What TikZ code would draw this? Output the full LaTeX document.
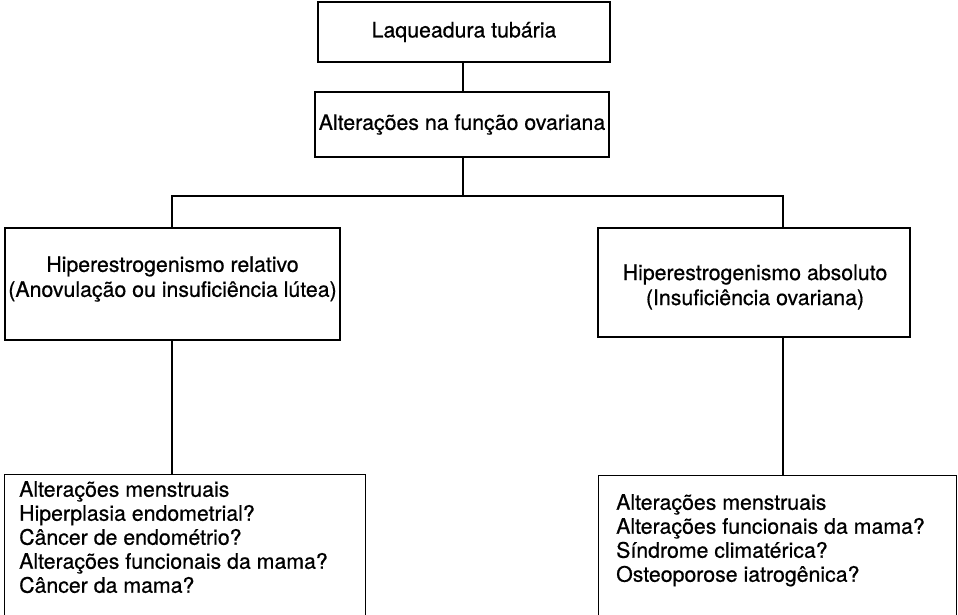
\documentclass[tikz,border=0pt]{standalone}
\usepackage{fontspec}
\setmainfont[FakeBold=0.6]{TeX Gyre Heros}
\begin{document}
\begin{tikzpicture}[x=1pt,y=1pt,
  box/.style={draw,line width=1.4pt,rectangle,inner sep=0pt},
  lbl/.style={inner sep=0pt,align=center,font=\fontsize{21.3}{25}\selectfont},
  lst/.style={inner sep=0pt,align=left,anchor=north west,font=\fontsize{21.3}{24}\selectfont},
  conn/.style={line width=1.4pt}]
\useasboundingbox (0,0) rectangle (958,-614);
\clip (0,0) rectangle (958,-614);
% boxes
\node[box,minimum width=292pt,minimum height=60pt] (top) at (464,-32) {};
\node[box,minimum width=294pt,minimum height=65pt] (mid) at (462,-124.5) {};
\node[box,minimum width=335pt,minimum height=112pt] (rel) at (172.5,-284) {};
\node[box,minimum width=312pt,minimum height=109pt] (abs) at (754,-282.5) {};
\node[box,minimum width=361pt,minimum height=200pt,anchor=north west] (lowl) at (4,-474) {};
\node[box,minimum width=358pt,minimum height=200pt,anchor=north west] (lowr) at (598,-475) {};
% texts
\node[lbl] (ttop) at (top) {Laqueadura tubária};
\node[lbl] (tmid) at (mid) {Alterações na função ovariana};
\node[lbl] (trel) at (172.5,-279) {Hiperestrogenismo relativo\\(Anovulação ou insuficiência lútea)};
\node[lbl] (tabs) at (755,-287) {Hiperestrogenismo absoluto\\(Insuficiência ovariana)};
\node[lst] (tlowl) at (19,-481) {Alterações menstruais\\Hiperplasia endometrial?\\Câncer de endométrio?\\Alterações funcionais da mama?\\Câncer da mama?};
\node[lst] (tlowr) at (616,-494) {Alterações menstruais\\Alterações funcionais da mama?\\Síndrome climatérica?\\Osteoporose iatrogênica?};
% connectors
\coordinate (split) at (463,-196);
\draw[conn] (top.south -| 463,0) -- (mid.north -| 463,0);
\draw[conn] (mid.south -| 463,0) -- (split);
\draw[conn] (rel.north -| 172,0) |- (split) -| (abs.north -| 783,0);
\draw[conn] (rel.south -| 172,0) -- (lowl.north -| 172,0);
\draw[conn] (abs.south -| 783,0) -- (lowr.north -| 783,0);
\end{tikzpicture}
\end{document}
